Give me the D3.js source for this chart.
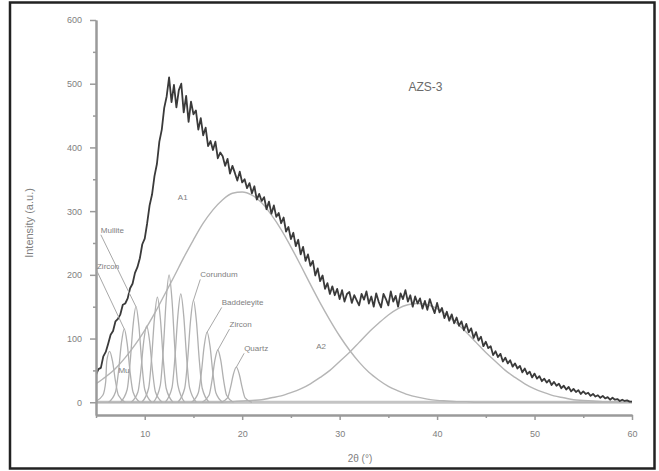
<!DOCTYPE html>
<html>
<head>
<meta charset="utf-8">
<script src="https://cdn.jsdelivr.net/npm/d3@7/dist/d3.min.js"></script>
<style>
  html, body { margin: 0; padding: 0; background: #fff; }
  svg { display: block; }
  text { font-family: "Liberation Sans", Arial, sans-serif; }
</style>
</head>
<body>
<svg id="chart" width="659" height="471"></svg>
<script>
// ---------- DATA ----------
const sampleTitle = "AZS-3";
const xTickValues = [10, 20, 30, 40, 50, 60];
const xMinorTicks = [5, 15, 25, 35, 45, 55];
const yTickValues = [0, 100, 200, 300, 400, 500, 600];
const yMinorTicks = [50, 150, 250, 350, 450, 550];
const xTitle = "2\u03b8 (\u00b0)";
const yTitle = "Intensity (a.u.)";

// measured pattern, 2θ from 5 to 60 in steps of 0.25
const measStart = 5, measStep = 0.25;
const measured = [
  43, 52, 54, 72,
  79, 92, 106, 112,
  127, 131, 138, 153,
  155, 163, 179, 186,
  203, 212, 226, 248,
  257, 281, 309, 326,
  355, 374, 409, 428,
  462, 480, 510, 471,
  498, 463, 490, 500,
  455, 481, 440, 472,
  452, 458, 428, 446,
  419, 431, 402, 410,
  396, 409, 383, 392,
  386, 371, 382, 359,
  371, 360, 348, 362,
  345, 350, 336, 344,
  328, 339, 318, 327,
  316, 322, 303, 315,
  296, 309, 291, 297,
  281, 290, 268, 275,
  256, 266, 245, 255,
  232, 244, 222, 232,
  214, 222, 199, 210,
  190, 199, 178, 187,
  170, 182, 168, 178,
  162, 176, 158, 170,
  173, 156, 168, 160,
  152, 170, 161, 174,
  155, 166, 150, 171,
  158, 149, 170, 162,
  152, 174, 158, 167,
  150, 171, 162, 176,
  158, 168, 150, 166,
  155, 163, 147, 159,
  145, 162, 150, 140,
  156, 141, 148, 132,
  142, 128, 138, 124,
  133, 120, 127, 113,
  123, 110, 116, 101,
  110, 97, 103, 88,
  95, 85, 88, 74,
  80, 71, 76, 64,
  70, 61, 66, 56,
  61, 53, 57, 47,
  53, 44, 48, 39,
  45, 37, 41, 33,
  37, 31, 35, 27,
  32, 26, 29, 22,
  26, 20, 24, 17,
  21, 16, 19, 13,
  17, 13, 15, 10,
  13, 9, 11, 7,
  10, 6, 8, 4,
  7, 4, 5, 2,
  4, 2, 3, 1,
  1
];

// broad amorphous component A1 (2θ = 5..60 step 1)
const compA1 = [
  29, 40, 53, 70, 90, 113, 139, 168, 197, 227, 255, 281, 302, 318, 328,
  330, 325, 313, 294, 271, 244, 215, 185, 156, 129, 104, 82, 63, 47, 35,
  25, 18, 12, 8, 5, 3, 2, 1, 1, 0, 0, 0, 0, 0, 0, 0, 0, 0, 0, 0, 0, 0, 0, 0, 0, 0
];
// broad amorphous component A2 (2θ = 5..60 step 1)
const compA2 = [
  0, 0, 0, 0, 0, 0, 0, 0, 0, 0, 0, 0, 0, 0, 1,
  2, 3, 4, 7, 10, 15, 21, 29, 39, 50, 64, 78, 94, 110, 124,
  137, 147, 153, 155, 153, 147, 137, 124, 110, 94, 78, 64, 50, 39, 29,
  21, 15, 10, 7, 4, 3, 2, 1, 1, 0, 0
];

// narrow crystalline peaks [2θ, intensity]
const peaks = [
  [[4.8,0],[5.7,11],[6.0,33],[6.1,64],[6.4,80],[6.7,64],[7.0,33],[7.3,11],[8.0,0]],
  [[6.3,0],[7.0,16],[7.3,47],[7.6,92],[7.9,115],[8.2,92],[8.5,47],[8.8,16],[9.5,0]],
  [[7.5,0],[8.2,20],[8.5,62],[8.8,120],[9.1,150],[9.4,120],[9.7,62],[10.0,20],[10.7,0]],
  [[8.6,0],[9.3,16],[9.6,49],[9.9,96],[10.2,120],[10.5,96],[10.8,49],[11.1,16],[11.8,0]],
  [[9.7,0],[10.4,22],[10.7,68],[11.0,132],[11.3,165],[11.6,132],[11.9,68],[12.2,22],[12.9,0]],
  [[10.9,0],[11.6,27],[11.9,82],[12.2,160],[12.5,200],[12.8,160],[13.1,82],[13.4,27],[14.1,0]],
  [[12.1,0],[12.8,23],[13.1,70],[13.4,136],[13.7,170],[14.0,136],[14.3,70],[14.6,23],[15.3,0]],
  [[13.4,0],[14.1,22],[14.4,66],[14.7,128],[15.0,160],[15.3,128],[15.6,66],[15.9,22],[16.6,0]],
  [[14.8,0],[15.5,15],[15.8,45],[16.1,88],[16.4,110],[16.7,88],[17.0,45],[17.3,15],[18.0,0]],
  [[15.9,0],[16.6,11],[16.9,34],[17.2,66],[17.5,82],[17.8,66],[18.1,34],[18.4,11],[19.1,0]],
  [[17.8,0],[18.5,7],[18.8,23],[19.1,44],[19.4,55],[19.7,44],[20.0,23],[20.3,7],[21.0,0]]
];

// phase labels: [text, 2θ, intensity, index of peak pointed to (or -1)]
const phaseLabels = [
  ["Corundum", 15.7, 196, 7],
  ["Baddeleyite", 17.9, 152, 8],
  ["Zircon", 18.7, 118, 9],
  ["Quartz", 20.2, 80, 10],
  ["Mullite", 5.5, 266, 2],
  ["Zircon", 5.1, 209, 1],
  ["Mu", 7.3, 46, -1],
  ["A1", 13.4, 318, -1],
  ["A2", 27.6, 84, -1]
];

// ---------- CHART ----------
const svg = d3.select("#chart");
const W = 659, H = 471;

svg.append("rect").attr("x", 0).attr("y", 0).attr("width", W).attr("height", H).attr("fill", "#fff");
svg.append("rect").attr("x", 10).attr("y", 2.5).attr("width", 644.5).attr("height", 466)
  .attr("fill", "none").attr("stroke", "#222").attr("stroke-width", 2.5);

const x = d3.scaleLinear().domain([5, 60]).range([96, 632]);
const y = d3.scaleLinear().domain([-20, 600]).range([415, 20]);

const axisColor = "#9a9a9a";
const textColor = "#808080";

svg.append("defs").append("clipPath").attr("id", "plotclip")
  .append("rect").attr("x", x(5)).attr("y", y(600)).attr("width", x(60) - x(5)).attr("height", y(-20) - y(600));

const plot = svg.append("g").attr("clip-path", "url(#plotclip)");

// baseline
plot.append("line")
  .attr("x1", x(5)).attr("x2", x(60)).attr("y1", y(0)).attr("y2", y(0))
  .attr("stroke", "#c4c4c4").attr("stroke-width", 3);

const compLine = d3.line().x(d => x(d[0])).y(d => y(d[1])).curve(d3.curveMonotoneX);

const toPairs = arr => arr.map((v, i) => [5 + i, v]);

[compA1, compA2].forEach(c => {
  plot.append("path").datum(toPairs(c)).attr("d", compLine)
    .attr("fill", "none").attr("stroke", "#b5b5b5").attr("stroke-width", 1.4);
});

peaks.forEach(p => {
  plot.append("path").datum(p).attr("d", compLine)
    .attr("fill", "none").attr("stroke", "#b0b0b0").attr("stroke-width", 1.3);
});

// measured
const measLine = d3.line().x((d, i) => x(measStart + i * measStep)).y(d => y(d));
plot.append("path").datum(measured).attr("d", measLine)
  .attr("fill", "none").attr("stroke", "#3a3a3a").attr("stroke-width", 1.8).attr("stroke-linejoin", "round");

// axes
const gx = svg.append("g").attr("transform", `translate(0,${y(-20)})`)
  .call(d3.axisBottom(x).tickValues(xTickValues).tickSize(5).tickPadding(11).tickSizeOuter(0));
const gxm = svg.append("g").attr("transform", `translate(0,${y(-20)})`)
  .call(d3.axisBottom(x).tickValues(xMinorTicks).tickSize(3).tickFormat("").tickSizeOuter(0));
const gy = svg.append("g").attr("transform", `translate(${x(5)},0)`)
  .call(d3.axisLeft(y).tickValues(yTickValues).tickSize(6).tickPadding(8).tickSizeOuter(0));
const gym = svg.append("g").attr("transform", `translate(${x(5)},0)`)
  .call(d3.axisLeft(y).tickValues(yMinorTicks).tickSize(3).tickFormat("").tickSizeOuter(0));

[gx, gxm, gy, gym].forEach(g => {
  g.selectAll("path.domain").attr("stroke", axisColor).attr("stroke-width", 2);
  g.selectAll(".tick line").attr("stroke", axisColor).attr("stroke-width", 1.5);
  g.selectAll(".tick text").attr("fill", textColor).attr("font-size", 9)
    .attr("font-family", "Liberation Sans, Arial, sans-serif");
});

// titles
svg.append("text").attr("x", 360).attr("y", 462).attr("text-anchor", "middle")
  .attr("font-size", 10).attr("fill", textColor).text(xTitle);
svg.append("text").attr("transform", `translate(33,${223}) rotate(-90)`).attr("text-anchor", "middle")
  .attr("font-size", 11).attr("fill", textColor).text(yTitle);
svg.append("text").attr("x", x(38.8)).attr("y", y(488)).attr("text-anchor", "middle")
  .attr("font-size", 12).attr("fill", "#6a6a6a").text(sampleTitle);

// phase labels and leaders
phaseLabels.forEach(([t, tx, ty, pi]) => {
  const lx = x(tx), ly = y(ty);
  svg.append("text").attr("x", lx).attr("y", ly).attr("font-size", 8)
    .attr("fill", textColor).text(t);
  if (pi >= 0) {
    const top = peaks[pi].reduce((a, b) => (b[1] > a[1] ? b : a));
    svg.append("line").attr("x1", lx).attr("y1", ly + 2)
      .attr("x2", x(top[0])).attr("y2", y(top[1]))
      .attr("stroke", "#a8a8a8").attr("stroke-width", 1);
  }
});
</script>
</body>
</html>
